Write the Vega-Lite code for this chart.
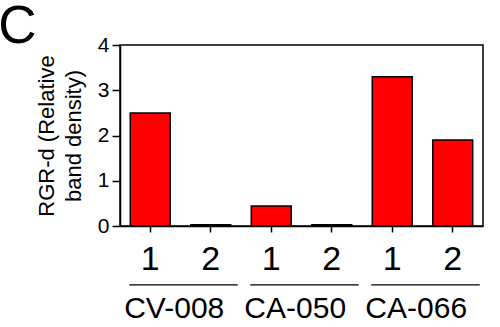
{
  "$schema": "https://vega.github.io/schema/vega-lite/v6.json",
  "width": 363,
  "height": 181,
  "autosize": {"type": "none"},
  "padding": {"left": 120, "top": 45, "right": 17, "bottom": 101},
  "background": "white",
  "config": {
    "font": "Liberation Sans",
    "view": {"stroke": "#000", "strokeWidth": 1.5},
    "axis": {"grid": false, "domainColor": "#000", "tickColor": "#000", "labelColor": "#000", "titleColor": "#000", "labelFont": "Liberation Sans", "titleFont": "Liberation Sans"}
  },
  "title": {"text": "C", "anchor": "start", "frame": "bounds", "fontSize": 53, "fontWeight": "normal", "font": "Liberation Sans", "color": "#000", "dx": -37, "offset": -20},
  "datasets": {
    "bars": [
      {"id": "CV-008 1", "group": "CV-008", "lane": "1", "value": 2.5},
      {"id": "CV-008 2", "group": "CV-008", "lane": "2", "value": 0.03},
      {"id": "CA-050 1", "group": "CA-050", "lane": "1", "value": 0.44},
      {"id": "CA-050 2", "group": "CA-050", "lane": "2", "value": 0.03},
      {"id": "CA-066 1", "group": "CA-066", "lane": "1", "value": 3.3},
      {"id": "CA-066 2", "group": "CA-066", "lane": "2", "value": 1.9}
    ],
    "groups": [
      {"group": "CV-008", "first": "CV-008 1", "second": "CV-008 2"},
      {"group": "CA-050", "first": "CA-050 1", "second": "CA-050 2"},
      {"group": "CA-066", "first": "CA-066 1", "second": "CA-066 2"}
    ]
  },
  "layer": [
    {
      "data": {"name": "bars"},
      "mark": {"type": "bar", "color": "#ff0000", "stroke": "#000", "strokeWidth": 1.5},
      "encoding": {
        "x": {
          "field": "id", "type": "nominal", "sort": null,
          "scale": {"domain": ["CV-008 1", "CV-008 2", "CA-050 1", "CA-050 2", "CA-066 1", "CA-066 2"], "paddingInner": 0.34, "paddingOuter": 0.17},
          "axis": {"title": null, "labelExpr": "split(datum.label, ' ')[1]", "labelAngle": 0, "labelFontSize": 34, "tickSize": 6, "tickWidth": 1.5, "domainWidth": 1.5, "labelPadding": 10}
        },
        "y": {
          "field": "value", "type": "quantitative",
          "scale": {"domain": [0, 4], "nice": false, "zero": true},
          "axis": {"values": [0, 1, 2, 3, 4], "title": ["RGR-d (Relative", "band density)"], "titleFontSize": 22, "titleFontWeight": "normal", "titleLineHeight": 27, "titlePadding": 12, "labelFontSize": 21, "tickSize": 8, "tickWidth": 1.5, "domainWidth": 1.5, "labelPadding": 3}
        }
      }
    },
    {
      "data": {"name": "groups"},
      "mark": {"type": "rule", "color": "#000", "strokeWidth": 1.3, "xOffset": -21, "x2Offset": 27},
      "encoding": {
        "x": {"field": "first", "type": "nominal"},
        "x2": {"field": "second"},
        "y": {"datum": -1.3}
      }
    },
    {
      "data": {"name": "groups"},
      "mark": {"type": "text", "fontSize": 30, "color": "#000", "baseline": "middle", "align": "center", "dx": 4},
      "encoding": {
        "x": {"field": "first", "type": "nominal", "bandPosition": 1},
        "y": {"datum": -1.83},
        "text": {"field": "group"}
      }
    }
  ]
}
